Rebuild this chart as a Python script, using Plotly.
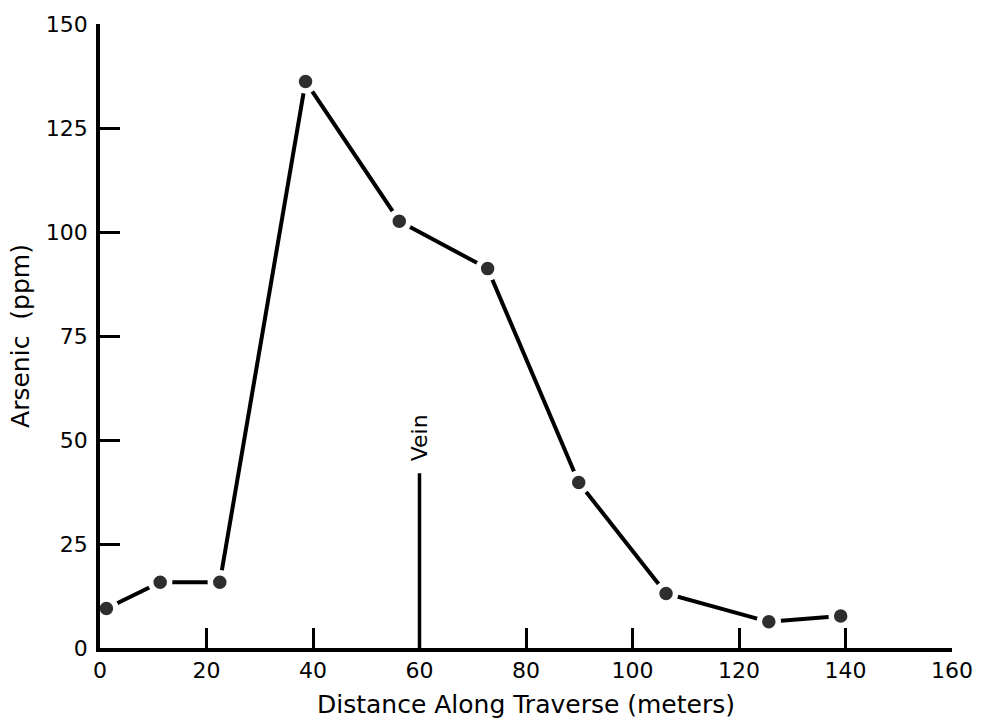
import plotly.graph_objects as go

# Data
distance_m = [1.2, 11.3, 22.5, 38.6, 56.2, 72.8, 89.9, 106.3, 125.6, 139.1]
arsenic_ppm = [9.5, 15.8, 15.8, 136.2, 102.6, 91.2, 39.8, 13.1, 6.3, 7.7]
vein_x = 60
vein_top = 42
vein_label = "Vein"
x_ticks = [0, 20, 40, 60, 80, 100, 120, 140, 160]
y_ticks = [0, 25, 50, 75, 100, 125, 150]

FONT = "DejaVu Sans"

fig = go.Figure()
fig.add_trace(go.Scatter(
    x=distance_m, y=arsenic_ppm, mode="lines+markers",
    line=dict(color="black", width=4),
    marker=dict(size=19, color="#2e2e2e", line=dict(color="white", width=5.5)),
    showlegend=False, cliponaxis=False,
))

fig.add_shape(type="line", x0=vein_x, x1=vein_x, y0=0, y1=vein_top,
              line=dict(color="black", width=3.5))
fig.add_annotation(x=vein_x, y=vein_top, text=vein_label, textangle=-90,
                   showarrow=False, yanchor="bottom", xanchor="center", yshift=10,
                   font=dict(family=FONT, size=22, color="black"))

fig.update_layout(
    width=985, height=727,
    margin=dict(l=100, r=28, t=20, b=78),
    plot_bgcolor="white", paper_bgcolor="white",
    font=dict(family=FONT, color="black"),
    xaxis=dict(
        range=[0, 160], tickvals=x_ticks, ticks="inside", ticklen=20, tickwidth=2.5,
        tickcolor="black", showline=True, linecolor="black", linewidth=3.5,
        showgrid=False, zeroline=False, tickfont=dict(size=22, family=FONT),
        title=dict(text="Distance Along Traverse (meters)", standoff=14,
                   font=dict(size=25, family=FONT)),
    ),
    yaxis=dict(
        range=[0, 150], tickvals=y_ticks, ticks="inside", ticklen=20, tickwidth=2.5,
        tickcolor="black", showline=True, linecolor="black", linewidth=3.5,
        showgrid=False, zeroline=False, tickfont=dict(size=22, family=FONT),
        ticklabelstandoff=4,
        title=dict(text="Arsenic  (ppm)", standoff=10,
                   font=dict(size=25, family=FONT)),
    ),
)

fig.write_html("out.html")
